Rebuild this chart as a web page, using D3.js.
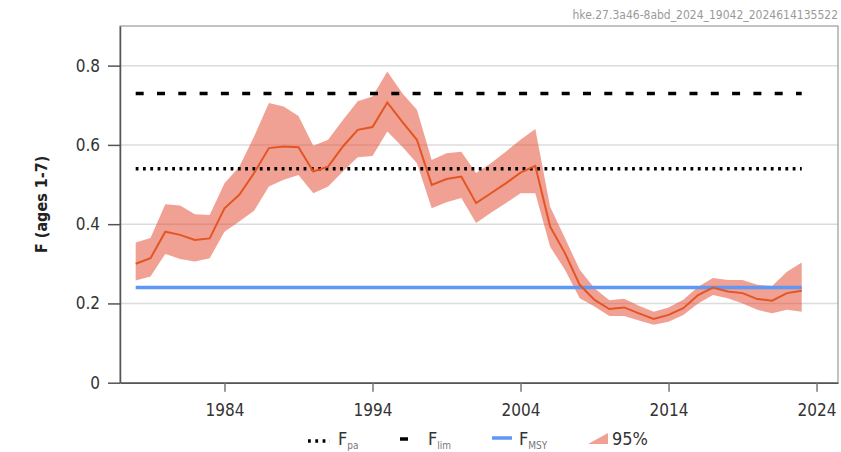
<!DOCTYPE html>
<html>
<head>
<meta charset="utf-8">
<script src="https://cdn.jsdelivr.net/npm/d3@7"></script>
<style>
  body { margin: 0; background: #fff; }
  text { font-family: "DejaVu Sans Condensed", "Liberation Sans", sans-serif; }
</style>
</head>
<body>
<div id="chart"></div>
<script>
// years of the assessment
const years = [1978, 1979, 1980, 1981, 1982, 1983, 1984, 1985, 1986, 1987, 1988, 1989,
  1990, 1991, 1992, 1993, 1994, 1995, 1996, 1997, 1998, 1999, 2000, 2001, 2002, 2003,
  2004, 2005, 2006, 2007, 2008, 2009, 2010, 2011, 2012, 2013, 2014, 2015, 2016, 2017,
  2018, 2019, 2020, 2021, 2022, 2023];
// F (ages 1-7) estimate
const fValues = [0.300, 0.314, 0.381, 0.373, 0.360, 0.364, 0.440, 0.474, 0.529, 0.592, 0.596, 0.594,
  0.533, 0.545, 0.596, 0.638, 0.645, 0.707, 0.659, 0.613, 0.499, 0.514, 0.520, 0.453, 0.478, 0.503,
  0.530, 0.547, 0.394, 0.327, 0.247, 0.209, 0.186, 0.190, 0.175, 0.161, 0.171, 0.188, 0.221, 0.240,
  0.230, 0.226, 0.211, 0.207, 0.226, 0.232];
// 95% interval
const fHigh = [0.354, 0.365, 0.450, 0.447, 0.425, 0.423, 0.503, 0.545, 0.621, 0.706, 0.697, 0.673,
  0.598, 0.613, 0.663, 0.710, 0.722, 0.785, 0.731, 0.689, 0.562, 0.579, 0.583, 0.529, 0.554, 0.583,
  0.613, 0.640, 0.444, 0.365, 0.285, 0.238, 0.208, 0.212, 0.194, 0.179, 0.190, 0.209, 0.242, 0.264,
  0.259, 0.259, 0.247, 0.244, 0.280, 0.303];
const fLow = [0.258, 0.268, 0.325, 0.312, 0.306, 0.314, 0.381, 0.407, 0.434, 0.495, 0.512, 0.524,
  0.478, 0.495, 0.533, 0.569, 0.572, 0.634, 0.596, 0.554, 0.440, 0.455, 0.466, 0.403, 0.429, 0.453,
  0.478, 0.478, 0.343, 0.285, 0.213, 0.192, 0.168, 0.168, 0.157, 0.146, 0.154, 0.171, 0.200, 0.221,
  0.213, 0.200, 0.184, 0.175, 0.184, 0.179];
// reference points
const Fpa = 0.54;
const Flim = 0.73;
const Fmsy = 0.24;
const xTicks = [1984, 1994, 2004, 2014, 2024];
const yTicks = [0, 0.2, 0.4, 0.6, 0.8];
const title = "hke.27.3a46-8abd_2024_19042_2024614135522";

var width = 841, height = 452;
var pLeft = 120, pRight = 838, pTop = 26, pBottom = 382.7;

var svg = d3.select("#chart").append("svg")
  .attr("width", width)
  .attr("height", height);

var x = d3.scaleLinear().domain([1976.94, 2025.45]).range([pLeft, pRight]);
var y = d3.scaleLinear().domain([0, 0.9]).range([pBottom, pTop]);

var rows = years.map((yr, i) => ({ year: yr, f: fValues[i], lo: fLow[i], hi: fHigh[i] }));

// title top right
svg.append("text")
  .attr("x", pRight)
  .attr("y", 19)
  .attr("text-anchor", "end")
  .style("font-size", "12px")
  .style("fill", "#9a9a9a")
  .text(title);

// grid
svg.append("g")
  .selectAll("line")
  .data(yTicks.filter(d => d > 0))
  .enter()
  .append("line")
  .attr("x1", pLeft).attr("x2", pRight)
  .attr("y1", d => y(d)).attr("y2", d => y(d))
  .style("stroke", "#dcdcdc")
  .style("stroke-width", 1.5);

// frame
svg.append("rect")
  .attr("x", pLeft).attr("y", pTop)
  .attr("width", pRight - pLeft).attr("height", pBottom - pTop)
  .style("fill", "none")
  .style("stroke", "#9a9a9a")
  .style("stroke-width", 1.2);

// 95% band
svg.append("path")
  .datum(rows)
  .attr("d", d3.area().x(d => x(d.year)).y0(d => y(d.lo)).y1(d => y(d.hi)))
  .style("fill", "#e54b30")
  .style("fill-opacity", 0.52);

// reference lines
var yrExt = d3.extent(years);
function refLine(v, color, w, dash) {
  svg.append("line")
    .attr("x1", x(yrExt[0])).attr("x2", x(yrExt[1]))
    .attr("y1", y(v)).attr("y2", y(v))
    .style("stroke", color)
    .style("stroke-width", w)
    .style("stroke-dasharray", dash);
}
refLine(Fpa, "#000", 3.5, "2.8,4.5");
refLine(Flim, "#000", 3.5, "8,13.3");
refLine(Fmsy, "#5f98f4", 3.5, null);

// F line
svg.append("path")
  .datum(rows)
  .attr("d", d3.line().x(d => x(d.year)).y(d => y(d.f)))
  .style("fill", "none")
  .style("stroke", "#e35522")
  .style("stroke-width", 2);

// axes
var xAxis = svg.append("g")
  .attr("transform", "translate(0," + pBottom + ")")
  .call(d3.axisBottom(x).tickValues(xTicks).tickFormat(d3.format("d"))
    .tickSizeInner(9).tickSizeOuter(0).tickPadding(12));
xAxis.select(".domain").style("stroke", "#555").style("stroke-width", 1.5);
xAxis.selectAll(".tick line").style("stroke", "#777").style("stroke-width", 1.5);
xAxis.selectAll("text").style("font-size", "17px").style("fill", "#333");

var yAxis = svg.append("g")
  .attr("transform", "translate(" + pLeft + ",0)")
  .call(d3.axisLeft(y).tickValues(yTicks).tickFormat(d => d === 0 ? "0" : d3.format(".1f")(d))
    .tickSizeInner(12).tickSizeOuter(0).tickPadding(8));
yAxis.select(".domain").style("stroke", "#555").style("stroke-width", 1.5);
yAxis.selectAll(".tick line").style("stroke", "#555").style("stroke-width", 1.5);
yAxis.selectAll("text").style("font-size", "17px").style("fill", "#333");

// y label
svg.append("text")
  .attr("transform", "translate(47," + ((pTop + pBottom) / 2) + ") rotate(-90)")
  .attr("text-anchor", "middle")
  .style("font-size", "16px")
  .style("font-weight", "bold")
  .style("fill", "#222")
  .text("F (ages 1-7)");

// legend
var lg = svg.append("g");
var base = 445;
lg.append("line").attr("x1", 308).attr("x2", 330).attr("y1", 441).attr("y2", 441)
  .style("stroke", "#000").style("stroke-width", 3.5).style("stroke-dasharray", "2.8,4.5");
lg.append("line").attr("x1", 400).attr("x2", 408).attr("y1", 439).attr("y2", 439)
  .style("stroke", "#000").style("stroke-width", 3.5);
lg.append("line").attr("x1", 492).attr("x2", 512).attr("y1", 438).attr("y2", 438)
  .style("stroke", "#5f98f4").style("stroke-width", 3.5);
lg.append("path").attr("d", "M588,444L608,444L608,433Z")
  .style("fill", "#e54b30").style("fill-opacity", 0.52);

var labels = [
  { x: 338, sub: "pa" },
  { x: 428, sub: "lim" },
  { x: 519, sub: "MSY" }
];
labels.forEach(function(l) {
  var t = lg.append("text").attr("x", l.x).attr("y", base)
    .style("font-size", "18px").style("fill", "#333");
  t.append("tspan").text("F");
  t.append("tspan").attr("dy", 4).style("font-size", "10px").style("fill", "#777").text(l.sub);
});
lg.append("text").attr("x", 612).attr("y", base)
  .style("font-size", "18px").style("fill", "#333").text("95%");
</script>
</body>
</html>
